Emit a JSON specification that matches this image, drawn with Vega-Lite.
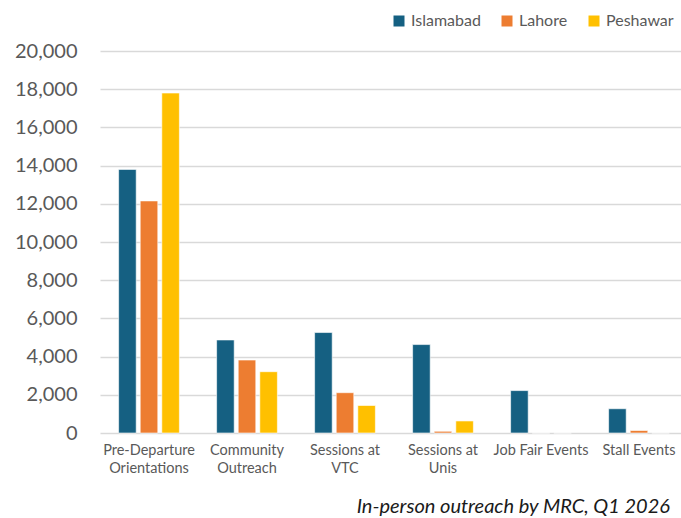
{
  "$schema": "https://vega.github.io/schema/vega-lite/v6.json",
  "autosize": "none",
  "padding": {"left": 100, "top": 51, "right": 0, "bottom": 85},
  "width": 588,
  "height": 382,
  "background": "white",
  "data": {
    "values": [
      {"category": "Pre-Departure Orientations", "city": "Islamabad", "value": 13800},
      {"category": "Pre-Departure Orientations", "city": "Lahore", "value": 12150},
      {"category": "Pre-Departure Orientations", "city": "Peshawar", "value": 17800},
      {"category": "Community Outreach", "city": "Islamabad", "value": 4870},
      {"category": "Community Outreach", "city": "Lahore", "value": 3820},
      {"category": "Community Outreach", "city": "Peshawar", "value": 3210},
      {"category": "Sessions at VTC", "city": "Islamabad", "value": 5260},
      {"category": "Sessions at VTC", "city": "Lahore", "value": 2110},
      {"category": "Sessions at VTC", "city": "Peshawar", "value": 1440},
      {"category": "Sessions at Unis", "city": "Islamabad", "value": 4630},
      {"category": "Sessions at Unis", "city": "Lahore", "value": 90},
      {"category": "Sessions at Unis", "city": "Peshawar", "value": 630},
      {"category": "Job Fair Events", "city": "Islamabad", "value": 2220},
      {"category": "Job Fair Events", "city": "Lahore", "value": 0},
      {"category": "Job Fair Events", "city": "Peshawar", "value": 0},
      {"category": "Stall Events", "city": "Islamabad", "value": 1270},
      {"category": "Stall Events", "city": "Lahore", "value": 130},
      {"category": "Stall Events", "city": "Peshawar", "value": 0}
    ]
  },
  "title": {
    "text": "In-person outreach by MRC, Q1 2026",
    "orient": "bottom",
    "anchor": "end",
    "frame": "group",
    "font": "Lato",
    "fontSize": 20,
    "fontStyle": "italic",
    "fontWeight": "normal",
    "color": "#1a1a1a",
    "dx": -18,
    "offset": 22
  },
  "mark": {"type": "bar", "stroke": "white", "strokeWidth": 0.6},
  "encoding": {
    "x": {
      "field": "category",
      "type": "nominal",
      "sort": null,
      "scale": {"paddingInner": 0.38, "paddingOuter": 0.19},
      "axis": {
        "title": null,
        "labelAngle": 0,
        "ticks": false,
        "domain": false,
        "labelFont": "Lato",
        "labelFontSize": 14.5,
        "labelColor": "#595959",
        "labelPadding": 10,
        "labelLineHeight": 18,
        "labelLimit": 200,
        "labelExpr": "datum.label == 'Pre-Departure Orientations' ? ['Pre-Departure', 'Orientations'] : datum.label == 'Community Outreach' ? ['Community', 'Outreach'] : datum.label == 'Sessions at VTC' ? ['Sessions at', 'VTC'] : datum.label == 'Sessions at Unis' ? ['Sessions at', 'Unis'] : datum.label"
      }
    },
    "xOffset": {
      "field": "city",
      "type": "nominal",
      "scale": {"paddingInner": 0.186, "paddingOuter": 0}
    },
    "y": {
      "field": "value",
      "type": "quantitative",
      "scale": {"domain": [0, 20000], "nice": false},
      "axis": {
        "title": null,
        "values": [0, 2000, 4000, 6000, 8000, 10000, 12000, 14000, 16000, 18000, 20000],
        "format": ",.0f",
        "ticks": false,
        "domain": false,
        "gridColor": "#D9D9D9",
        "gridWidth": 1.5,
        "labelFont": "Lato",
        "labelFontSize": 20,
        "labelColor": "#595959",
        "labelPadding": 23
      }
    },
    "color": {
      "field": "city",
      "type": "nominal",
      "scale": {"domain": ["Islamabad", "Lahore", "Peshawar"], "range": ["#156082", "#ED7D31", "#FFC000"]},
      "legend": {
        "title": null,
        "orient": "none",
        "direction": "horizontal",
        "legendX": 291,
        "legendY": -38,
        "padding": 0,
        "symbolType": "square",
        "symbolSize": 121,
        "symbolStrokeWidth": 0,
        "labelOffset": 4,
        "columnPadding": 18,
        "labelFont": "Lato",
        "labelFontSize": 16,
        "labelColor": "#595959"
      }
    }
  },
  "config": {"view": {"stroke": null}}
}
